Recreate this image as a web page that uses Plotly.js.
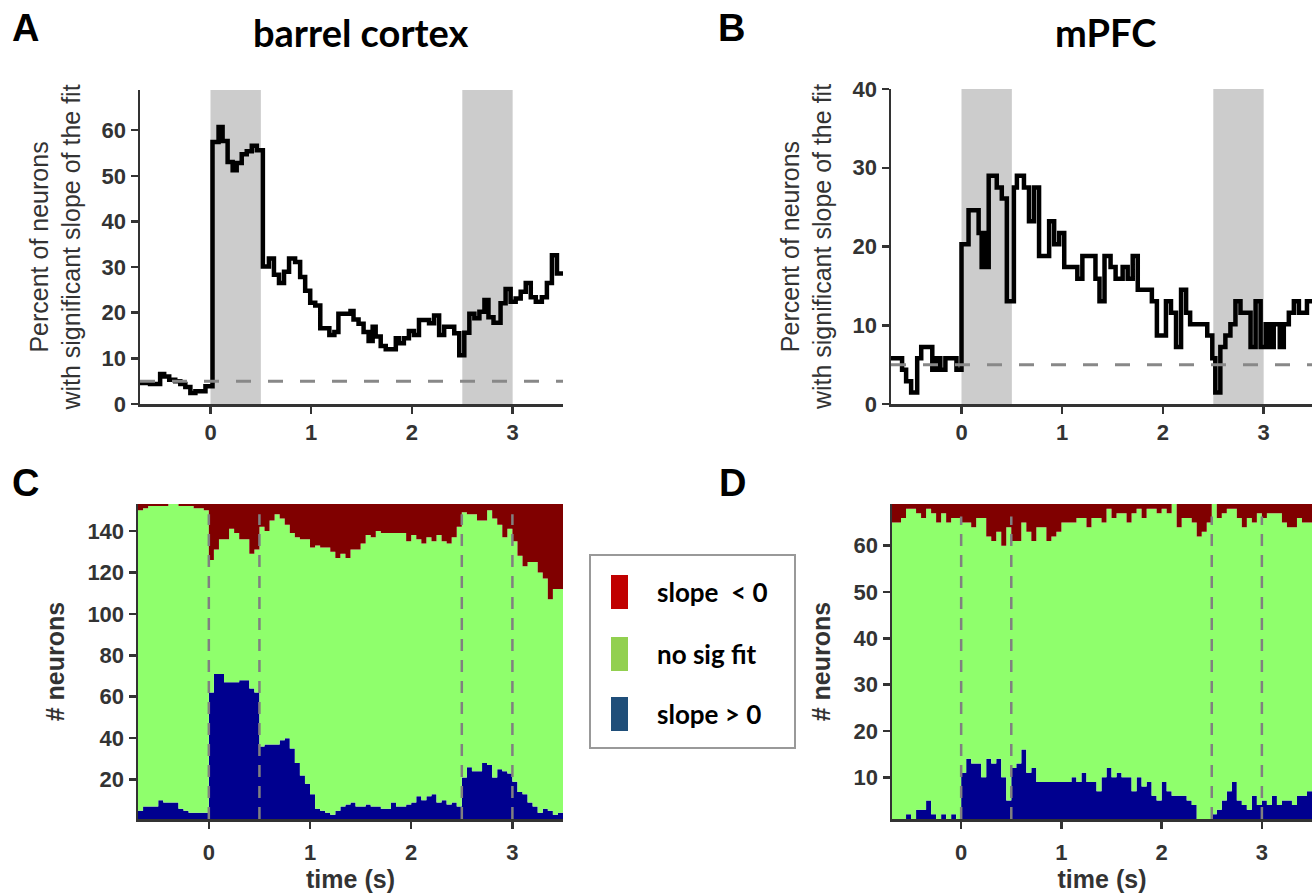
<!DOCTYPE html>
<html><head><meta charset="utf-8">
<script src="https://cdn.plot.ly/plotly-3.0.1.min.js"></script>
<style>html,body{margin:0;padding:0;background:#fff}#chart{width:1312px;height:894px}</style>
</head><body><div id="chart"></div>
<script>
// ---------- DATA ----------
// Panel A (barrel cortex): step starts (s) and percent of neurons
const tA = [-0.7,-0.6,-0.5,-0.46,-0.41,-0.35,-0.3,-0.25,-0.2,-0.15,-0.05,0.02,0.08,0.12,0.17,0.22,0.26,0.31,0.36,0.41,0.46,0.52,0.58,0.63,0.68,0.73,0.78,0.84,0.89,0.94,0.99,1.04,1.09,1.18,1.23,1.27,1.39,1.42,1.47,1.52,1.57,1.61,1.64,1.69,1.74,1.84,1.87,1.92,1.97,2.02,2.07,2.17,2.22,2.27,2.32,2.42,2.47,2.52,2.57,2.62,2.67,2.72,2.76,2.81,2.88,2.93,2.98,3.03,3.08,3.13,3.18,3.23,3.29,3.34,3.39,3.44];
const pA = [4.6,4.4,6.6,6.0,5.3,5.0,4.4,3.7,2.4,2.8,3.9,57.4,60.7,57.6,53.0,51.2,52.8,54.7,55.4,56.6,55.6,30.1,31.9,28.3,26.5,29.0,31.9,31.1,27.8,24.8,22.2,21.6,16.6,15.1,15.8,19.8,20.4,18.5,17.6,15.8,13.8,16.9,14.8,12.7,12.0,14.4,13.3,14.4,16.0,15.1,18.4,17.7,19.4,15.1,16.9,15.5,10.7,15.6,19.8,18.8,20.2,22.8,19.0,17.8,22.1,25.2,22.4,23.1,24.6,26.5,23.4,22.4,23.4,26.5,32.6,28.6];
// Panel B (mPFC)
const tB = [-0.7,-0.59,-0.55,-0.5,-0.44,-0.4,-0.29,-0.25,-0.21,-0.16,-0.05,0.0,0.07,0.17,0.2,0.22,0.24,0.27,0.35,0.4,0.45,0.52,0.55,0.62,0.67,0.72,0.77,0.87,0.92,0.97,1.02,1.15,1.2,1.33,1.37,1.42,1.48,1.53,1.6,1.65,1.7,1.75,1.89,1.94,2.03,2.08,2.13,2.18,2.23,2.27,2.44,2.49,2.52,2.57,2.62,2.67,2.72,2.77,2.87,2.92,2.97,3.02,3.06,3.1,3.16,3.2,3.25,3.3,3.35,3.43];
const pB = [5.8,4.35,2.9,1.45,5.8,7.25,4.35,5.8,4.35,5.8,4.35,20.3,24.6,21.7,17.4,21.7,17.4,29.0,27.5,26.1,13.04,27.5,29.0,27.5,23.2,27.5,18.8,23.2,20.3,21.7,17.4,15.9,18.8,15.9,13.04,18.8,17.4,15.9,17.4,15.9,18.8,14.5,13.04,8.7,13.04,11.6,7.25,14.5,11.6,10.14,8.7,5.8,1.45,7.25,8.7,10.14,13.04,11.6,7.25,13.04,7.25,10.14,7.25,10.14,7.25,10.14,11.6,13.04,11.6,13.04];
const chanceLevel = 5;           // % (dashed line)
const eventTimes = [0, 0.5, 2.5, 3];  // stimulus windows (s)

// Panels C / D: neuron counts per 50 ms bin, first bin starts at -0.7 s
const binStart = -0.7, binWidth = 0.05;
const nC = 153, nD = 69;
const cPos = [5,7,7,7,10,9,9,9,6,5,4,4,4,4, 62,71,71,67,67,67,68,68,64,62, 36,37,37,37,39,40,35,28,22,18, 13,6,5,4,3,5,7,8,9,7, 7,8,7,7,6,6,9,7,7,8, 9,12,10,12,13,9,10,8,9,7, 21,26,24,24,28,27,21,25,24,23, 19,14,13,9,7,4,6,5,3,4];
const cNone = [145,144,145,145,142,143,144,144,146,147,148,147,147,146, 64,60,65,69,74,72,68,68,65,69, 106,103,108,111,107,103,104,109,114,118, 119,127,127,128,127,122,122,119,122,124, 127,130,130,133,133,133,130,132,132,127, 129,124,124,125,122,129,125,126,128,135, 128,122,124,121,117,123,125,118,113,118, 116,114,110,116,118,116,111,102,109,108];
const cNeg = [3,2,1,1,1,1,0,0,1,1,1,2,2,3, 27,22,17,17,12,14,17,17,24,22, 11,13,8,5,7,10,14,16,17,17, 21,20,21,21,23,26,24,26,22,22, 19,15,16,13,14,14,14,14,14,18, 15,17,19,16,18,15,18,19,16,11, 4,5,5,8,8,3,7,10,16,12, 18,25,30,28,28,33,36,46,41,41];
const dPos = [0,0,0,2,1,3,3,5,2,1,2,1,2,1, 11,14,13,13,10,14,13,14,10,5, 12,13,16,11,12,9,9,9,9,9, 9,9,10,9,11,9,9,7,10,12, 10,11,10,10,7,10,8,9,6,5, 9,7,6,6,6,5,4,0,0,0, 2,3,5,7,9,5,4,3,6,4, 5,4,6,4,5,5,4,6,6,7];
const dNone = [65,65,66,66,67,64,63,63,65,64,65,64,64,65, 54,51,51,53,56,48,48,49,50,59, 49,48,49,52,49,55,55,52,53,54, 56,56,55,57,55,55,57,59,55,56, 56,56,57,55,60,58,58,59,62,62, 59,60,63,58,60,61,61,62,63,65, 67,63,62,61,59,61,60,63,59,63, 61,63,61,63,60,59,60,60,59,58];
const dNeg = [4,4,3,1,1,2,3,1,2,4,2,4,3,3, 4,4,5,3,3,7,8,6,9,5, 8,8,4,6,8,5,5,8,7,6, 4,4,4,3,3,5,3,3,4,1, 3,2,2,4,2,1,3,1,1,2, 1,2,0,5,3,3,4,7,6,4, 0,3,2,1,1,3,5,3,4,2, 3,2,2,2,4,5,5,3,4,4];

const panelTitles = ['barrel cortex', 'mPFC'];
const panelLetters = ['A', 'B', 'C', 'D'];
const legendLabels = ['slope  < 0', 'no sig fit', 'slope > 0'];
const xTicks = [0, 1, 2, 3];
const yTicksA = [0, 10, 20, 30, 40, 50, 60];
const yTicksB = [0, 10, 20, 30, 40];
const yTicksC = [20, 40, 60, 80, 100, 120, 140];
const yTicksD = [10, 20, 30, 40, 50, 60];

// ---------- STYLE / LAYOUT ----------
const W = 1312, H = 894;
const px = v => v / W, py = v => 1 - v / H;
const AX = '#333333';
const FONT = 'Liberation Sans, Arial, sans-serif';
const CAL = 'Lato, Open Sans, sans-serif';
const cBlue = '#00008f', cGreen = '#8fff6c', cRed = '#800000';

function stepEnd(t, v, tEnd) { return {x: t.concat([tEnd]), y: v.concat([v[v.length - 1]])}; }
function edges(n) { const e = []; for (let k = 0; k <= n; k++) e.push(+(binStart + k * binWidth).toFixed(3)); return e; }
function ext(v) { return v.concat([v[v.length - 1]]); }

const sA = stepEnd(tA, pA, 3.5), sB = stepEnd(tB, pB, 3.5);
const eC = edges(cPos.length), eD = edges(dPos.length);

function stack(xa, ya, x, pos, none, neg) {
  const base = {type: 'scatter', mode: 'lines', xaxis: xa, yaxis: ya, stackgroup: ya,
                line: {width: 0, shape: 'hv'}, showlegend: false, hoverinfo: 'skip'};
  return [
    Object.assign({}, base, {x: x, y: ext(pos), fillcolor: cBlue}),
    Object.assign({}, base, {x: x, y: ext(none), fillcolor: cGreen}),
    Object.assign({}, base, {x: x, y: ext(neg), fillcolor: cRed})
  ];
}

const data = [
  {type: 'scatter', mode: 'lines', x: sA.x, y: sA.y, xaxis: 'x', yaxis: 'y', line: {color: '#000', width: 4.5, shape: 'hv'}, showlegend: false},
  {type: 'scatter', mode: 'lines', x: [-0.7, 3.5], y: [chanceLevel, chanceLevel], xaxis: 'x', yaxis: 'y', line: {color: '#888', width: 3, dash: '15px,17px'}, showlegend: false},
  {type: 'scatter', mode: 'lines', x: sB.x, y: sB.y, xaxis: 'x2', yaxis: 'y2', line: {color: '#000', width: 4.5, shape: 'hv'}, showlegend: false},
  {type: 'scatter', mode: 'lines', x: [-0.7, 3.5], y: [chanceLevel, chanceLevel], xaxis: 'x2', yaxis: 'y2', line: {color: '#888', width: 3, dash: '15px,17px'}, showlegend: false}
].concat(stack('x3', 'y3', eC, cPos, cNone, cNeg)).concat(stack('x4', 'y4', eD, dPos, dNone, dNeg));

function axis(extra) {
  return Object.assign({
    showline: true, linecolor: AX, linewidth: 2.5, ticks: 'outside', ticklen: 7, tickwidth: 2.5, tickcolor: AX,
    showgrid: false, zeroline: false, automargin: false,
    tickfont: {family: FONT, size: 22, color: AX, weight: 'bold'}
  }, extra);
}
const yTitleTop = {text: 'Percent of neurons<br>with significant slope of the fit', font: {family: FONT, size: 25, color: AX}, standoff: 14};
const yTitleBot = {text: '# neurons', font: {family: FONT, size: 25, color: AX, weight: 'bold'}, standoff: 16};
const xTitleBot = {text: 'time (s)', font: {family: FONT, size: 25, color: AX, weight: 'bold'}, standoff: 4};

const shapes = [];
// grey stimulus windows in A and B
[['x', 'y'], ['x2', 'y2']].forEach(([xr, yr]) => {
  for (let i = 0; i < eventTimes.length; i += 2) {
    shapes.push({type: 'rect', xref: xr, yref: yr + ' domain', x0: eventTimes[i], x1: eventTimes[i + 1], y0: 0, y1: 1,
                 fillcolor: '#cccccc', line: {width: 0}, layer: 'below'});
  }
});
// dashed event lines in C and D
[['x3', 'y3', 1, 148], ['x4', 'y4', 1, 66.3]].forEach(([xr, yr, y0, y1]) => {
  eventTimes.forEach(t => shapes.push({type: 'line', xref: xr, yref: yr, x0: t, x1: t, y0: y0, y1: y1,
                 line: {color: '#808080', width: 2.5, dash: '12px,9px'}, layer: 'above'}));
});
// legend box + swatches
shapes.push({type: 'rect', xref: 'paper', yref: 'paper', x0: px(590), x1: px(795), y0: py(748), y1: py(555), line: {color: '#999', width: 2}, fillcolor: '#fff'});
const swCols = ['#c00000', '#92d050', '#1f4e79'];
const swY = [575, 637, 697];
swCols.forEach((c, i) => shapes.push({type: 'rect', xref: 'paper', yref: 'paper', x0: px(611), x1: px(628), y0: py(swY[i] + 34), y1: py(swY[i]),
  fillcolor: c, line: {width: 0}}));

const annotations = [];
const letterPos = [[25, 28], [731, 28], [25, 483], [732, 483]];
panelLetters.forEach((L, i) => annotations.push({text: L, xref: 'paper', yref: 'paper', x: px(letterPos[i][0]), y: py(letterPos[i][1]),
  showarrow: false, xanchor: 'center', yanchor: 'middle', font: {family: FONT, size: 38, color: '#000', weight: 'bold'}}));
const titlePos = [[361, 32], [1105, 32]];
panelTitles.forEach((T, i) => annotations.push({text: T, xref: 'paper', yref: 'paper', x: px(titlePos[i][0]), y: py(titlePos[i][1]),
  showarrow: false, xanchor: 'center', yanchor: 'middle', font: {family: CAL, size: 38, color: '#000', weight: 'bold'}}));
legendLabels.forEach((T, i) => annotations.push({text: T, xref: 'paper', yref: 'paper', x: px(655), y: py(swY[i] + 17),
  showarrow: false, xanchor: 'left', yanchor: 'middle', font: {family: CAL, size: 26, color: '#000', weight: 'bold'}}));

const layout = {
  width: W, height: H, margin: {l: 0, r: 0, t: 0, b: 0}, paper_bgcolor: '#fff', plot_bgcolor: 'rgba(0,0,0,0)',
  showlegend: false,
  xaxis: axis({domain: [px(140), px(563)], range: [-0.7, 3.5], tickvals: xTicks, anchor: 'y'}),
  yaxis: axis({domain: [py(404), py(90)], range: [0, 68.8], tickvals: yTicksA, anchor: 'x', title: yTitleTop}),
  xaxis2: axis({domain: [px(891), 1], range: [-0.7, 3.48], tickvals: xTicks, anchor: 'y2'}),
  yaxis2: axis({domain: [py(404), py(89)], range: [0, 40], tickvals: yTicksB, anchor: 'x2', title: yTitleTop}),
  xaxis3: axis({domain: [px(138), px(563)], range: [-0.7, 3.5], tickvals: xTicks, anchor: 'y3', title: xTitleBot, ticklabelstandoff: 5}),
  yaxis3: axis({domain: [py(819), py(504)], range: [1, nC], tickvals: yTicksC, anchor: 'x3', title: yTitleBot}),
  xaxis4: axis({domain: [px(892), 1], range: [-0.69, 3.5], tickvals: xTicks, anchor: 'y4', title: xTitleBot, ticklabelstandoff: 5}),
  yaxis4: axis({domain: [py(819), py(504)], range: [1, nD], tickvals: yTicksD, anchor: 'x4', title: yTitleBot}),
  shapes: shapes, annotations: annotations
};
Plotly.newPlot('chart', data, layout, {displayModeBar: false, staticPlot: true});
</script></body></html>
